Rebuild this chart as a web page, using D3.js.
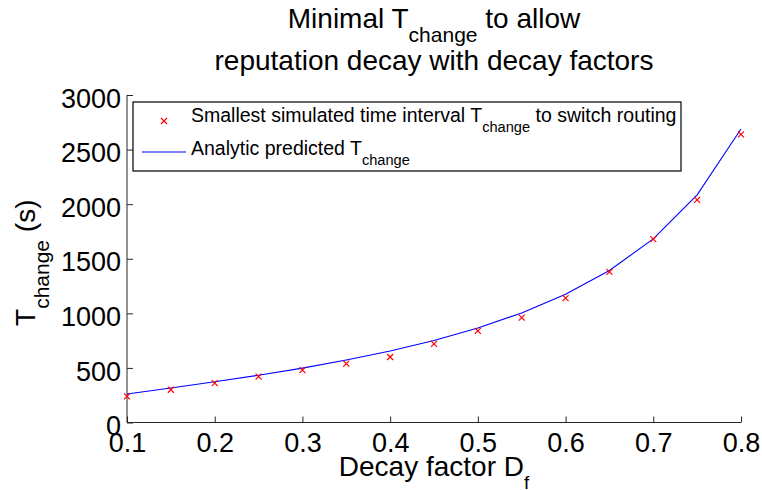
<!DOCTYPE html>
<html>
<head>
<meta charset="utf-8">
<script src="https://cdn.jsdelivr.net/npm/d3@7"></script>
<style>
  html, body { margin: 0; padding: 0; background: #fff; }
  svg { display: block; font-family: "Liberation Sans", Arial, Helvetica, sans-serif; }
</style>
</head>
<body>
<svg id="chart" width="762" height="490"></svg>
<script>
// Decay factor values on the x axis
const decayFactors = [0.1, 0.15, 0.2, 0.25, 0.3, 0.35, 0.4, 0.45, 0.5, 0.55, 0.6, 0.65, 0.7, 0.75, 0.8];
// Smallest simulated switching interval (s)
const simulatedT = [240, 300, 360, 420, 480, 540, 600, 720, 840, 960, 1140, 1380, 1680, 2040, 2640];
// Analytic prediction (s)
const analyticT = [261, 316, 373, 433, 498, 572, 655, 751, 866, 1004, 1175, 1393, 1682, 2086, 2689];
// Tick values
const xTicks = [0.1, 0.2, 0.3, 0.4, 0.5, 0.6, 0.7, 0.8];
const yTicks = [0, 500, 1000, 1500, 2000, 2500, 3000];

const svg = d3.select("#chart");
const plot = { left: 127, right: 741, top: 95, bottom: 422.5 };

const x = d3.scaleLinear().domain([0.1, 0.8]).range([plot.left, plot.right]);
const y = d3.scaleLinear().domain([0, 3000]).range([plot.bottom, plot.top]);

const tickFont = 27;
const labelFont = 28;
const legendFont = 19.5;

// Axes: ticks drawn inward
const yAxis = d3.axisLeft(y).tickValues(yTicks).tickSize(-6).tickPadding(6).tickFormat(d3.format("d"));
const xAxis = d3.axisBottom(x).tickValues(xTicks).tickSize(-6).tickPadding(0).tickFormat(d3.format(".1f"));

const gy = svg.append("g").attr("transform", `translate(${plot.left},0)`).call(yAxis);
const gx = svg.append("g").attr("transform", `translate(0,${plot.bottom})`).call(xAxis);

[gx, gy].forEach(g => {
  g.select(".domain").attr("stroke", "#262626").attr("stroke-width", 1);
  g.selectAll(".tick line").attr("stroke", "#262626").attr("stroke-width", 1);
  g.selectAll(".tick text").attr("fill", "#000").style("font-size", tickFont + "px")
    .style("font-family", "'Liberation Sans', Arial, Helvetica, sans-serif");
});
gy.select(".domain").attr("d", `M0,${plot.bottom}V${plot.top}`);
gx.select(".domain").attr("d", `M${plot.left},0H${plot.right}`);
gy.selectAll(".tick text").attr("dy", "0.45em");
gx.selectAll(".tick text").attr("y", 0).attr("dy", "1.1em");

// Analytic curve
const line = d3.line().x((d, i) => x(decayFactors[i])).y(d => y(d));
svg.append("path")
  .datum(analyticT)
  .attr("d", line)
  .attr("fill", "none")
  .attr("stroke", "#0000ff")
  .attr("stroke-width", 1.1);

// Simulated points as red crosses
const cross = (cx, cy, r) => `M${cx - r},${cy - r}L${cx + r},${cy + r}M${cx - r},${cy + r}L${cx + r},${cy - r}`;
svg.append("g").selectAll("path")
  .data(simulatedT)
  .join("path")
  .attr("d", (d, i) => cross(x(decayFactors[i]), y(d), 3))
  .attr("stroke", "#ff0000")
  .attr("stroke-width", 1.2)
  .attr("fill", "none");

// Text helper with a subscript part
function subText(t, parts, size) {
  parts.forEach(p => {
    const s = t.append("tspan").text(p.text);
    if (p.sub) {
      s.style("font-size", (size * 0.75) + "px").attr("dy", size * 0.5 + "px");
    } else if (p.after) {
      s.attr("dy", -size * 0.5 + "px");
    }
  });
  return t;
}

// Title
const title = svg.append("g").style("font-size", labelFont + "px").attr("fill", "#000");
subText(title.append("text").attr("x", x(0.45)).attr("y", 28).attr("text-anchor", "middle"),
  [{ text: "Minimal T" }, { text: "change", sub: true }, { text: " to allow", after: true }], labelFont);
title.append("text").attr("x", x(0.45)).attr("y", 70).attr("text-anchor", "middle")
  .text("reputation decay with decay factors");

// X axis label
subText(svg.append("text").attr("x", x(0.45)).attr("y", 476).attr("text-anchor", "middle")
  .style("font-size", labelFont + "px"),
  [{ text: "Decay factor D" }, { text: "f", sub: true }], labelFont * 0.9);

// Y axis label
subText(svg.append("text").attr("transform", `translate(35,${(plot.top + plot.bottom) / 2 + 4}) rotate(-90)`)
  .attr("text-anchor", "middle").style("font-size", labelFont + "px"),
  [{ text: "T" }, { text: "change", sub: true }, { text: " (s)", after: true }], labelFont);

// Legend
const lg = svg.append("g");
lg.append("rect").attr("x", 133).attr("y", 102).attr("width", 548).attr("height", 69)
  .attr("fill", "#fff").attr("stroke", "#000").attr("stroke-width", 1.2);
lg.append("path").attr("d", cross(164, 121, 3)).attr("stroke", "#ff0000").attr("stroke-width", 1.2);
lg.append("line").attr("x1", 142).attr("x2", 186).attr("y1", 152).attr("y2", 152)
  .attr("stroke", "#0000ff").attr("stroke-width", 1.1);
subText(lg.append("text").attr("x", 191).attr("y", 122).style("font-size", legendFont + "px"),
  [{ text: "Smallest simulated time interval T" }, { text: "change", sub: true }, { text: " to switch routing", after: true }], legendFont);
subText(lg.append("text").attr("x", 191).attr("y", 155).style("font-size", legendFont + "px"),
  [{ text: "Analytic predicted T" }, { text: "change", sub: true }], legendFont);
</script>
</body>
</html>
